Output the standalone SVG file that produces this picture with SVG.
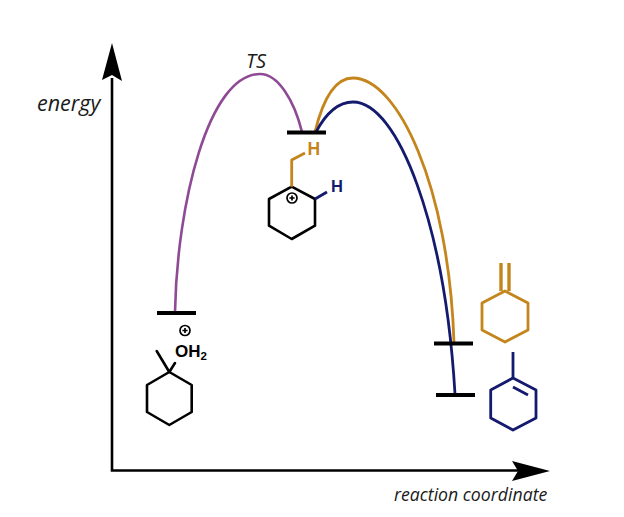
<svg xmlns="http://www.w3.org/2000/svg" width="624" height="517" viewBox="0 0 624 517">
<style>
.ax{fill:none;stroke:#000;stroke-width:2.6}
.hd{fill:#000}
.bar{stroke:#000;stroke-width:4;fill:none}
.k{fill:none;stroke:#000;stroke-width:2.6;stroke-linejoin:round;stroke-linecap:round}
.o{fill:none;stroke:#c4851c;stroke-width:2.8;stroke-linejoin:round}
.d{stroke-width:3.4}
.b{fill:none;stroke:#141b6e;stroke-width:2.8;stroke-linejoin:round}
.p{fill:none;stroke:#8e4a94;stroke-width:2.6}
.lab{font-family:"Open Sans","DejaVu Sans",sans-serif;font-style:italic;fill:#1a1a1a}
.atom{font-family:"Liberation Sans",Arial,sans-serif;font-weight:bold}
.ch{fill:none;stroke:#000;stroke-width:1.7}
</style>
<defs>
<g id="charge"><circle class="ch" r="5"/><path class="ch" d="M-2.6,0H2.6M0,-2.6V2.6"/></g>
</defs>
<g id="axes">
<path class="ax" d="M112,78V470.5H520"/>
<path class="hd" d="M112,43L122,81L112,75L102,80Z"/>
<path class="hd" d="M550,471L512,461L518,471L512,481Z"/>
<text class="lab" x="37" y="111" font-size="21.5">energy</text>
<text class="lab" x="394" y="501" font-size="17.7">reaction coordinate</text>
</g>
<g id="connectors">
<path class="p" d="M175,312C177,205 208,74 260,74C278,74 294,100 302,132"/>
<path class="o" d="M315,132C322,103 333,78 353,78C397,78 449,185 454,343"/>
<path class="b" d="M316,132C324,117 336,102 353,102C398,102 445,225 455,394"/>
</g>
<g id="ts-label"><text class="lab" x="246" y="68" font-size="20">TS</text></g>
<g id="reactant">
<path class="bar" d="M157,313H196"/>
<use href="#charge" x="185" y="330.5"/>
<text class="atom" x="175" y="357" font-size="17">OH<tspan font-size="11.5" dy="3">2</tspan></text>
<path class="k" d="M169.3,372L191.7,385V412L169.3,425L147,412V385Z"/>
<path class="k" d="M156.7,351L169.3,372L175,363"/>
</g>
<g id="intermediate">
<path class="bar" d="M287,132.5H326"/>
<use href="#charge" x="292" y="198"/>
<path class="k" d="M291.7,186.7L315,199V225.7L291.7,239L269,225.7V199Z"/>
<path class="o" d="M291.7,186.7V160L305,153"/>
<path class="b" d="M315,199L327,192"/>
<text class="atom" x="307.5" y="155" font-size="17.5" fill="#c4851c">H</text>
<text class="atom" x="331" y="192" font-size="16.5" fill="#141b6e">H</text>
</g>
<g id="product-orange">
<path class="bar" d="M434,343.5H473"/>
<path class="o" d="M505,291L528,303V330L505,342L482,330V303Z"/>
<path class="o d" d="M501,263V291M509,263V291"/>
</g>
<g id="product-blue">
<path class="bar" d="M436,395H475"/>
<path class="b" d="M513,378L536,390V418L513,430L490.7,418V390Z"/>
<path class="b" d="M513,352V378M513,387L528,395"/>
</g>
</svg>
